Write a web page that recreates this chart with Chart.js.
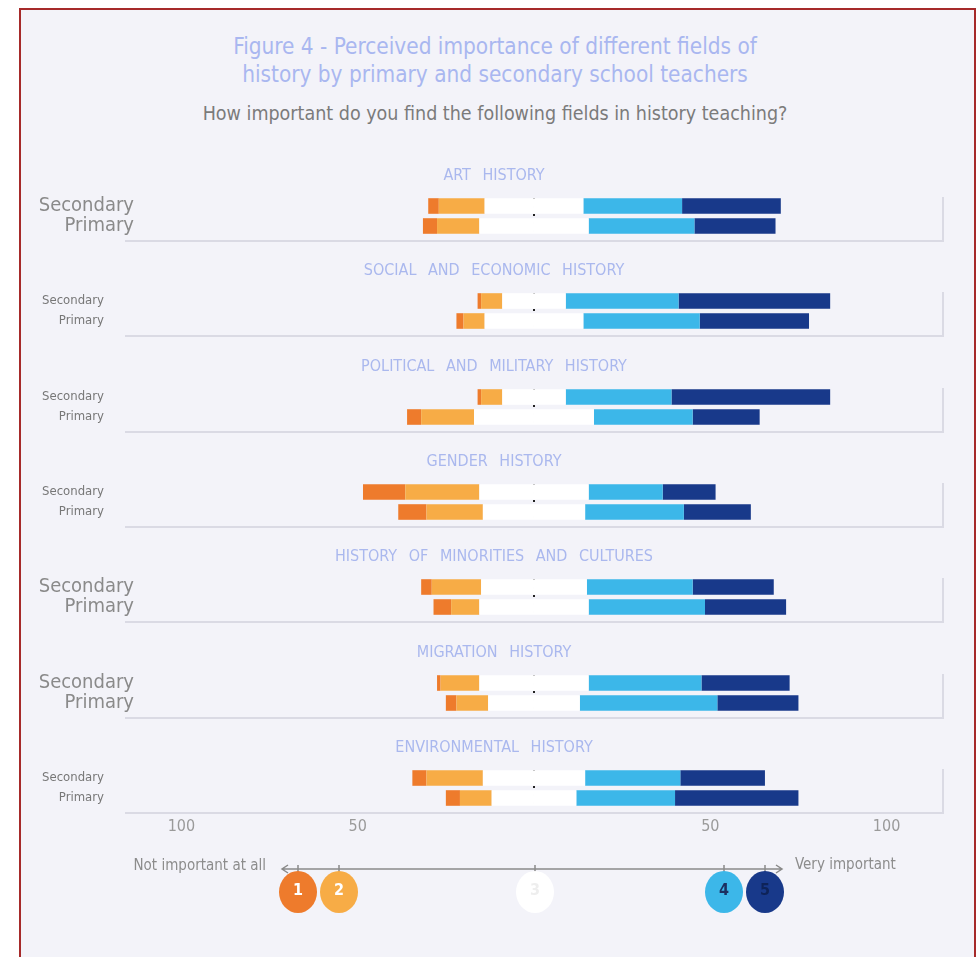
<!DOCTYPE html>
<html>
<head>
<meta charset="utf-8">
<script src="https://cdn.jsdelivr.net/npm/chart.js@4.4.0/dist/chart.umd.min.js"></script>
<style>
  body { margin: 0; background: #ffffff; font-family: 'DejaVu Sans Condensed', 'Liberation Sans Narrow', sans-serif; }
  #frame { position: absolute; left: 19px; top: 8px; width: 957px; height: 960px; box-sizing: border-box;
           border: 2px solid #a62a2a; border-bottom: none; background: #f3f3f9; }
  .heading { position: absolute; left: 20px; width: 950px; text-align: center; white-space: nowrap; }
  #title { top: 32px; color: #a9b7f0; font-size: 22.4px; line-height: 28px; }
  #subtitle { top: 102px; color: #7b7b7b; font-size: 19.5px; }
  canvas { position: absolute; left: 20px; }
</style>
</head>
<body>
<div id="frame"></div>
<div id="title" class="heading">Figure 4 - Perceived importance of different fields of<br>history by primary and secondary school teachers</div>
<div id="subtitle" class="heading">How important do you find the following fields in history teaching?</div>
<div id="panels"></div>
<script>
'use strict'

const fields = [
  'ART HISTORY',
  'SOCIAL AND ECONOMIC HISTORY',
  'POLITICAL AND MILITARY HISTORY',
  'GENDER HISTORY',
  'HISTORY OF MINORITIES AND CULTURES',
  'MIGRATION HISTORY',
  'ENVIRONMENTAL HISTORY'
]
const groups = ['Secondary', 'Primary']
const ratings = ['1', '2', '3', '4', '5']
const axisTicks = [-100, -50, 0, 50, 100]

// share of teachers (%) giving each rating, [secondary, primary] per field
const rating1 = [[3, 4], [1, 2], [1, 4], [12, 8], [3, 5], [1, 3], [4, 4]]
const rating2 = [[13, 12], [6, 6], [6, 15], [21, 16], [14, 8], [11, 9], [16, 9]]
const rating3 = [[28, 31], [18, 28], [18, 34], [31, 29], [30, 31], [31, 26], [29, 24]]
const rating4 = [[28, 30], [32, 33], [30, 28], [21, 28], [30, 33], [32, 39], [27, 28]]
const rating5 = [[28, 23], [43, 31], [45, 19], [15, 19], [23, 23], [25, 23], [24, 35]]

const colors = ['#ee7b2c', '#f7ac46', '#ffffff', '#3cb7e9', '#18398a']
const bigLabels = [true, false, false, false, true, true, false]

const PANEL_TOP = 162
const PANEL_STEP = 95.3
const CANVAS_W = 948
// keeps zero on a whole pixel so the two neutral halves meet without a seam
const X_MIN = -111.745
const X_MAX = 116

// neutral answers are split in two, half each side of zero
function panelDatasets (i) {
  return [
    { label: ratings[2], data: rating3[i].map(v => -v / 2), backgroundColor: colors[2] },
    { label: ratings[1], data: rating2[i].map(v => -v), backgroundColor: colors[1] },
    { label: ratings[0], data: rating1[i].map(v => -v), backgroundColor: colors[0] },
    { label: ratings[2], data: rating3[i].map(v => v / 2), backgroundColor: colors[2] },
    { label: ratings[3], data: rating4[i], backgroundColor: colors[3] },
    { label: ratings[4], data: rating5[i], backgroundColor: colors[4] }
  ]
}

function drawLegend (ctx) {
  const y = 135
  const cx = 515
  ctx.save()
  ctx.strokeStyle = '#8a8a8a'
  ctx.lineWidth = 1.5
  ctx.beginPath()
  ctx.moveTo(262, y)
  ctx.lineTo(762, y)
  ctx.moveTo(268, y - 4)
  ctx.lineTo(262, y)
  ctx.lineTo(268, y + 4)
  ctx.moveTo(756, y - 4)
  ctx.lineTo(762, y)
  ctx.lineTo(756, y + 4)
  ctx.stroke()

  const offsets = [-237, -196, 0, 189, 230]
  const numColors = ['#ffffff', '#ffffff', '#eeeeee', '#1c2f60', '#0e2358']
  offsets.forEach((dx, k) => {
    const x = cx + dx
    ctx.beginPath()
    ctx.moveTo(x, y - 4)
    ctx.lineTo(x, y + 4)
    ctx.stroke()
    ctx.fillStyle = colors[k]
    ctx.beginPath()
    ctx.ellipse(x, y + 23, 19, 21, 0, 0, Math.PI * 2)
    ctx.fill()
    ctx.fillStyle = numColors[k]
    ctx.font = 'bold 16px "DejaVu Sans Condensed", sans-serif'
    ctx.textAlign = 'center'
    ctx.textBaseline = 'middle'
    ctx.fillText(ratings[k], x, y + 22)
  })

  ctx.fillStyle = '#8c8c8c'
  ctx.font = '15px "Liberation Sans Narrow", "DejaVu Sans Condensed", sans-serif'
  ctx.textBaseline = 'middle'
  ctx.textAlign = 'right'
  ctx.fillText('Not important at all', 246, y - 3)
  ctx.textAlign = 'left'
  ctx.fillText('Very important', 775, y - 4)
  ctx.restore()
}

const panelDecor = {
  id: 'panelDecor',
  beforeDatasetsDraw (chart, args, opts) {
    const { ctx, chartArea: a } = chart
    const x = chart.scales.x
    const x0 = Math.round(x.getPixelForValue(0))
    const left = x.getPixelForValue(-X_MAX)
    ctx.save()
    // card edge on the right and bottom
    ctx.strokeStyle = '#dadae4'
    ctx.lineWidth = 2
    ctx.beginPath()
    ctx.moveTo(left, a.bottom + 5)
    ctx.lineTo(a.right, a.bottom + 5)
    ctx.lineTo(a.right, a.top + 1)
    ctx.stroke()
    // dotted zero line, mostly hidden behind the bars
    ctx.strokeStyle = '#222222'
    ctx.lineWidth = 2
    ctx.setLineDash([2, 6])
    ctx.beginPath()
    ctx.moveTo(x0, a.top + 2)
    ctx.lineTo(x0, a.bottom + 1)
    ctx.stroke()
    ctx.restore()
  },
  afterDraw (chart, args, opts) {
    const ctx = chart.ctx
    ctx.save()
    ctx.fillStyle = '#aab8ee'
    ctx.font = '16px "Liberation Sans Narrow", "DejaVu Sans Condensed", sans-serif'
    ctx.wordSpacing = '7px'
    ctx.textAlign = 'center'
    ctx.textBaseline = 'middle'
    ctx.fillText(opts.title, CANVAS_W / 2, chart.chartArea.top - 20)
    ctx.restore()
    if (opts.legend) drawLegend(ctx)
  }
}

function buildPanel (i) {
  const last = i === fields.length - 1
  const big = bigLabels[i]
  const canvas = document.createElement('canvas')
  canvas.width = CANVAS_W
  canvas.height = last ? 214 : 82
  canvas.style.top = Math.round(PANEL_TOP + i * PANEL_STEP) + 'px'
  document.getElementById('panels').appendChild(canvas)

  return new Chart(canvas, {
    type: 'bar',
    data: { labels: groups, datasets: panelDatasets(i) },
    options: {
      indexAxis: 'y',
      responsive: false,
      animation: false,
      layout: { padding: { top: 34, right: 25, bottom: last ? 0 : 8, left: 0 } },
      datasets: { bar: { barPercentage: 0.78, categoryPercentage: 1, borderWidth: 0 } },
      scales: {
        x: {
          stacked: true,
          min: X_MIN,
          max: X_MAX,
          display: last,
          grid: { display: false },
          border: { display: false },
          afterBuildTicks: s => { s.ticks = axisTicks.map(v => ({ value: v })) },
          afterFit: s => {
            s.height = last ? 140 : 0
            s.paddingLeft = 0
            s.paddingRight = 0
          },
          ticks: {
            callback: v => v === 0 ? '' : Math.abs(v),
            color: '#9a9a9a',
            font: { family: '"Liberation Sans Narrow", "DejaVu Sans Condensed", sans-serif', size: 16 },
            padding: 1
          }
        },
        y: {
          stacked: true,
          grid: { display: false },
          border: { display: false },
          afterFit: s => {
            s.width = 120
            s.paddingTop = 0
            s.paddingBottom = 0
          },
          ticks: {
            autoSkip: false,
            color: big ? '#8a8a8a' : '#777777',
            font: big
              ? { family: '"DejaVu Sans Condensed", sans-serif', size: 20 }
              : { family: '"DejaVu Sans Condensed", sans-serif', size: 13 },
            padding: big ? -2 : 28
          }
        }
      },
      plugins: {
        legend: { display: false },
        tooltip: { enabled: false },
        panelDecor: { title: fields[i], legend: last }
      }
    },
    plugins: [panelDecor]
  })
}

fields.forEach((f, i) => buildPanel(i))
</script>
</body>
</html>
